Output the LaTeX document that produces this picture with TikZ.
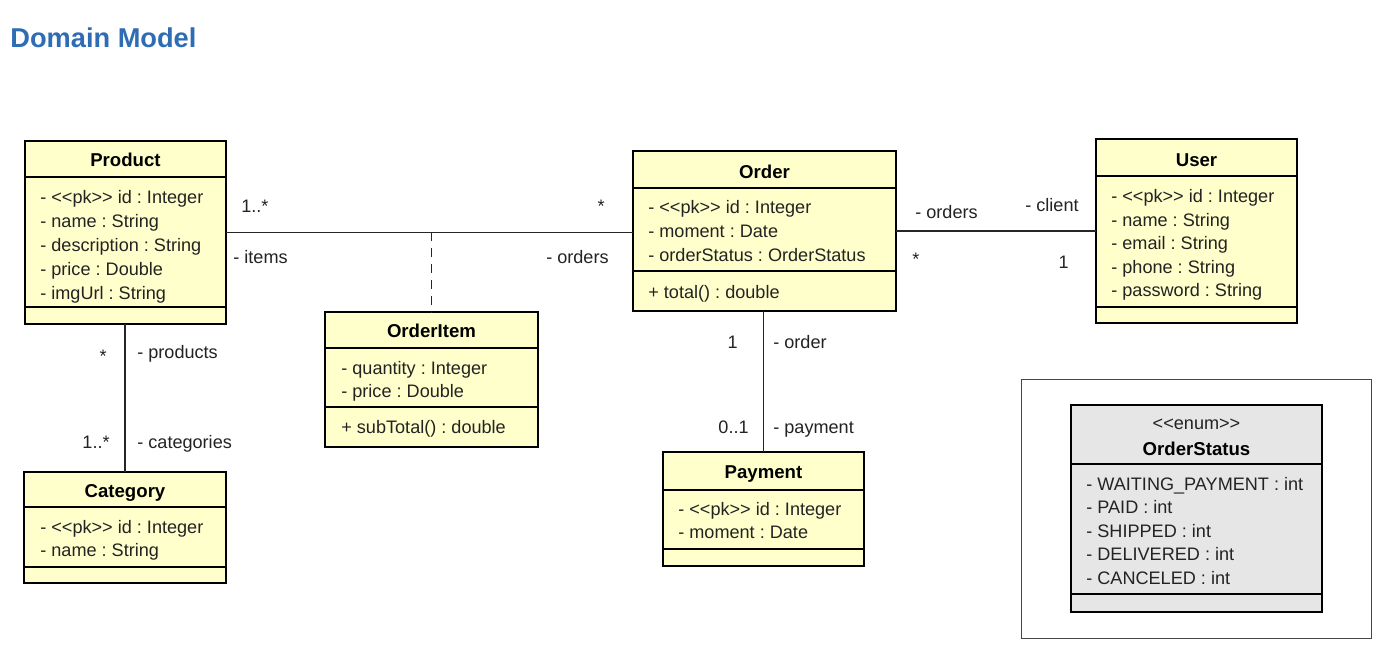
\documentclass[tikz,border=0pt]{standalone}
\usepackage{fontspec}
\setmainfont{Liberation Sans}[Ligatures=TeXOff]
\definecolor{boxfill}{RGB}{255,255,204}
\definecolor{enumfill}{RGB}{230,230,230}
\definecolor{titleblue}{RGB}{46,109,180}
\definecolor{txt}{RGB}{35,35,35}
\definecolor{framegray}{RGB}{70,70,70}
\newcommand{\umlbox}[6]{%
  \node[cls, fill=#6, minimum width={(#4-#2)*0.02cm}, minimum height={(#5-#3)*0.02cm}] (#1) at (#2,#3) {};}
\frenchspacing
\begin{document}
\frenchspacing
\begin{tikzpicture}[x=0.02cm,y=-0.02cm,
  cls/.style={draw=black, line width=1.6pt, anchor=north west, inner sep=0pt, outer sep=0pt},
  sepline/.style={line width=0.6pt},
  attr/.style={anchor=base west, inner sep=0pt, font=\frenchspacing\fontsize{10.3}{12}\selectfont, text=txt},
  ttl/.style={anchor=base, inner sep=0pt, font=\bfseries\fontsize{10.6}{12}\selectfont, text=black},
  lblw/.style={anchor=base west, inner sep=0pt, font=\fontsize{10.3}{12}\selectfont, text=txt},
  lble/.style={anchor=base east, inner sep=0pt, font=\fontsize{10.3}{12}\selectfont, text=txt},
  assoc/.style={line width=0.8pt, draw=black!85}]
\useasboundingbox (0,0) rectangle (1386,654);
\fill[white] (0,0) rectangle (1386,654);

% heading
\node[anchor=base west, inner sep=0pt, text=titleblue, font=\bfseries\fontsize{15.5}{18}\selectfont] (heading) at (10,47) {Domain Model};

% enum frame
\node[draw=framegray, line width=0.6pt, anchor=north west, inner sep=0pt, minimum width={350*0.02cm}, minimum height={259*0.02cm}] (frame) at (1021,379) {};

% boxes
\umlbox{product}{25}{141}{226}{324}{boxfill}
\umlbox{order}{633}{151}{896}{311}{boxfill}
\umlbox{user}{1096}{139}{1297}{323}{boxfill}
\umlbox{orderitem}{325}{312}{538}{447}{boxfill}
\umlbox{payment}{663}{452}{864}{566}{boxfill}
\umlbox{category}{24}{472}{226}{583}{boxfill}
\umlbox{orderstatus}{1071}{405}{1322}{612}{enumfill}

% separators
\draw[sepline] (25,177) -- (226,177) (25,307) -- (226,307);
\draw[sepline] (633,188) -- (896,188) (633,271) -- (896,271);
\draw[sepline] (1096,176) -- (1297,176) (1096,307) -- (1297,307);
\draw[sepline] (325,348) -- (538,348) (325,407) -- (538,407);
\draw[sepline] (663,490) -- (864,490) (663,549) -- (864,549);
\draw[sepline] (24,507) -- (226,507) (24,567) -- (226,567);
\draw[sepline] (1071,464) -- (1322,464) (1071,594) -- (1322,594);
% redraw borders on top
\foreach \n in {product,order,user,orderitem,payment,category,orderstatus}
  \draw[line width=1.6pt] (\n.north west) rectangle (\n.south east);

% Product
\node[ttl] (productT) at (125.5,166) {Product};
\node[attr] (p1) at (40,203) {- <<pk>> id : Integer};
\node[attr] (p2) at (40,227) {- name : String};
\node[attr] (p3) at (40,251) {- description : String};
\node[attr] (p4) at (40,275) {- price : Double};
\node[attr] (p5) at (40,299) {- imgUrl : String};

% Order
\node[ttl] (orderT) at (764.5,178) {Order};
\node[attr] (o1) at (648,213) {- <<pk>> id : Integer};
\node[attr] (o2) at (648,237) {- moment : Date};
\node[attr] (o3) at (648,261) {- orderStatus : OrderStatus};
\node[attr] (o4) at (648,298) {+ total() : double};

% User
\node[ttl] (userT) at (1196.5,166) {User};
\node[attr] (u1) at (1111,202) {- <<pk>> id : Integer};
\node[attr] (u2) at (1111,226) {- name : String};
\node[attr] (u3) at (1111,249) {- email : String};
\node[attr] (u4) at (1111,273) {- phone : String};
\node[attr] (u5) at (1111,296) {- password : String};

% OrderItem
\node[ttl] (orderitemT) at (431.5,337) {OrderItem};
\node[attr] (i1) at (341,374) {- quantity : Integer};
\node[attr] (i2) at (341,397) {- price : Double};
\node[attr] (i3) at (341,433) {+ subTotal() : double};

% Payment
\node[ttl] (paymentT) at (763.5,478) {Payment};
\node[attr] (y1) at (678,515) {- <<pk>> id : Integer};
\node[attr] (y2) at (678,538) {- moment : Date};

% Category
\node[ttl] (categoryT) at (125,497) {Category};
\node[attr] (c1) at (40,533) {- <<pk>> id : Integer};
\node[attr] (c2) at (40,556) {- name : String};

% OrderStatus
\node[anchor=base, inner sep=0pt, font=\fontsize{10.3}{12}\selectfont, text=txt] (enumS) at (1196.5,429) {<<enum>>};
\node[ttl] (orderstatusT) at (1196.5,455) {OrderStatus};
\node[attr] (s1) at (1086,490) {- WAITING\_PAYMENT : int};
\node[attr] (s2) at (1086,513) {- PAID : int};
\node[attr] (s3) at (1086,537) {- SHIPPED : int};
\node[attr] (s4) at (1086,560) {- DELIVERED : int};
\node[attr] (s5) at (1086,584) {- CANCELED : int};

% connectors
\draw[assoc] (product.east) -- (product.east -| order.west);
\coordinate (itemjoin) at (orderitem.north |- product.east);
\draw[assoc, dashed, dash pattern=on 5pt off 4pt] (itemjoin) -- (orderitem.north);
\draw[assoc] (order.east |- user.west) -- (user.west);
\draw[assoc] (product.south -| category.north) -- (category.north);
\draw[assoc] (order.south -| payment.north) -- (payment.north);

% association labels
\node[lblw] (l1) at (241,212) {1..*};
\node[lble] (l2) at (605,212) {*};
\node[lblw] (l3) at (233,263) {- items};
\node[lble] (l4) at (609,263) {- orders};
\node[lblw] (l5) at (915,218) {- orders};
\node[lblw] (l6) at (1025,211) {- client};
\node[lblw] (l7) at (912,265) {*};
\node[lble] (l8) at (1069,268) {1};
\node[lble] (l9) at (107,362) {*};
\node[lblw] (l10) at (137,358) {- products};
\node[lble] (l11) at (110,448) {1..*};
\node[lblw] (l12) at (137,448) {- categories};
\node[lble] (l13) at (738,348) {1};
\node[lblw] (l14) at (773,348) {- order};
\node[lble] (l15) at (749,433) {0..1};
\node[lblw] (l16) at (773,433) {- payment};
\end{tikzpicture}
\end{document}
